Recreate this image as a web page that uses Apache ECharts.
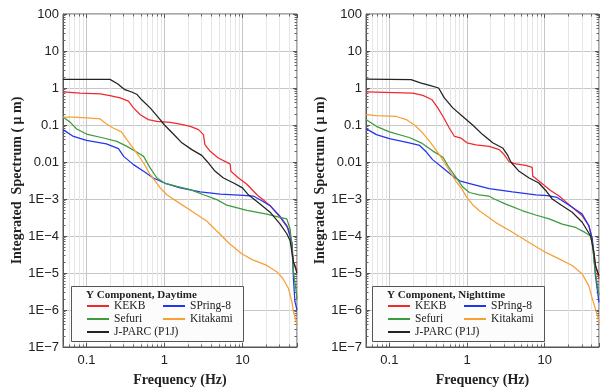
<!DOCTYPE html>
<html><head><meta charset="utf-8">
<script src="https://cdn.jsdelivr.net/npm/echarts@6/dist/echarts.min.js"></script>
<style>html,body{margin:0;padding:0;background:#fff}#c{width:602px;height:388px}</style>
</head><body><div id="c"></div>
<script>
// ---------- data (frequency Hz, integrated spectrum um) ----------
const seriesNames = ['KEKB', 'SPring-8', 'Sefuri', 'Kitakami', 'J-PARC (P1J)'];
const panelTitles = ['Y Component, Daytime', 'Y Component, Nighttime'];

const dayKEKB = [[0.05,0.78],[0.083,0.73],[0.15,0.69],[0.2,0.62],[0.27,0.54],[0.345,0.44],[0.40,0.29],[0.49,0.19],[0.62,0.14],[0.80,0.126],[1.18,0.118],[1.59,0.106],[2.14,0.092],[2.73,0.075],[3.16,0.055],[3.3,0.0295],[3.85,0.0194],[4.9,0.0128],[6.3,0.0098],[6.95,0.0088],[7.1,0.0056],[8.9,0.0037],[11.4,0.0025],[15.3,0.0013],[19.4,8.7e-4],[22.6,6.6e-4],[30.4,3.2e-4],[39,1.55e-4],[43,6.2e-5],[45,2e-5],[50,1.2e-5]];
const daySPring8 = [[0.05,0.075],[0.068,0.049],[0.1,0.0385],[0.18,0.031],[0.257,0.023],[0.3,0.0142],[0.40,0.0085],[0.54,0.0056],[0.72,0.0037],[1,0.0027],[1.59,0.002],[2.87,0.00155],[5.2,0.00136],[10.3,0.00126],[13.8,0.0012],[16.8,9.5e-4],[22.6,6.6e-4],[30,3.5e-4],[37,1.9e-4],[43,6.8e-5],[45,7e-6],[47,1.7e-6],[50,1e-6]];
const daySefuri = [[0.05,0.164],[0.062,0.118],[0.075,0.078],[0.1,0.057],[0.165,0.0445],[0.245,0.036],[0.33,0.0265],[0.44,0.0186],[0.54,0.0142],[0.655,0.0069],[0.80,0.0037],[1.0,0.0027],[1.44,0.0022],[2.14,0.0018],[3.16,0.0013],[4.7,9.6e-4],[6.3,6.8e-4],[11.4,4.9e-4],[20.5,3.9e-4],[30,3.2e-4],[37,2.9e-4],[40.8,1.55e-4],[43,5.5e-5],[45,1.1e-5],[49,3e-6],[50,2e-6]];
const dayKitakami = [[0.05,0.164],[0.068,0.164],[0.1,0.155],[0.15,0.146],[0.174,0.113],[0.22,0.083],[0.28,0.065],[0.33,0.04],[0.44,0.0175],[0.54,0.0094],[0.655,0.0046],[0.88,0.002],[1.07,0.0013],[1.59,7.5e-4],[2.35,4.4e-4],[3.5,2.5e-4],[5.2,1.1e-4],[6.95,6e-5],[9.8,3.3e-5],[13.3,2.3e-5],[20.5,1.6e-5],[27.8,1.07e-5],[33.1,7e-6],[38.9,3.8e-6],[43,1.66e-6],[45,9e-7],[49,4.8e-7],[50,4e-7]];
const dayJPARC = [[0.05,1.71],[0.2,1.71],[0.25,1.3],[0.31,0.9],[0.38,0.78],[0.44,0.68],[0.51,0.48],[0.655,0.29],[0.88,0.14],[1.0,0.10],[1.3,0.057],[1.67,0.033],[2.24,0.0216],[3.0,0.0151],[3.5,0.0105],[4.47,0.0056],[5.7,0.0037],[7.7,0.0027],[10,0.002],[11.9,0.0013],[16.8,7.3e-4],[22.6,4.4e-4],[30.4,2.1e-4],[37,1.15e-4],[40.8,7.5e-5],[45,2e-5],[50,1e-5]];

const nightKEKB = [[0.05,0.78],[0.2,0.73],[0.27,0.63],[0.355,0.48],[0.42,0.29],[0.49,0.17],[0.59,0.083],[0.69,0.049],[0.84,0.044],[1.0,0.033],[1.3,0.029],[1.93,0.0265],[2.6,0.0216],[3.0,0.0159],[3.5,0.01],[4.25,0.0089],[5.7,0.0081],[6.9,0.0072],[7.0,0.0042],[9.3,0.0026],[11.9,0.0017],[15.3,0.0012],[18.6,8.5e-4],[22.6,6e-4],[30.4,3.5e-4],[37,1.9e-4],[40.8,8.3e-5],[45,1.6e-5],[50,7e-6]];
const nightSPring8 = [[0.05,0.08],[0.068,0.055],[0.1,0.043],[0.18,0.033],[0.245,0.028],[0.3,0.0186],[0.36,0.0116],[0.49,0.0069],[0.62,0.0046],[0.8,0.0031],[1.18,0.0025],[1.93,0.0019],[3.85,0.00155],[7.7,0.0013],[10.8,0.00123],[14.5,1.1e-3],[16.8,9e-4],[22.6,6e-4],[30.4,3.9e-4],[37,1.9e-4],[41,8.3e-5],[45,8.5e-6],[50,1.6e-6]];
const nightSefuri = [[0.05,0.14],[0.068,0.092],[0.1,0.065],[0.18,0.046],[0.257,0.033],[0.36,0.02],[0.49,0.0134],[0.59,0.0069],[0.76,0.0033],[0.88,0.0021],[1.07,0.0015],[1.44,0.0013],[1.9,0.0012],[2.24,1e-3],[3.16,7.3e-4],[5.2,4.8e-4],[7.67,3.7e-4],[11.4,2.9e-4],[16.8,2.1e-4],[25,1.7e-4],[33,1.25e-4],[39,1e-4],[41,6e-5],[45,1e-5],[50,2.5e-6]];
const nightKitakami = [[0.05,0.19],[0.068,0.18],[0.123,0.17],[0.165,0.14],[0.21,0.1],[0.257,0.067],[0.33,0.036],[0.44,0.0159],[0.565,0.0069],[0.72,0.003],[0.84,0.002],[0.97,0.0012],[1.18,7e-4],[1.44,4.8e-4],[2.35,2.3e-4],[3.85,1.26e-4],[6.3,6.7e-5],[10.3,3.6e-5],[15.3,2.4e-5],[22.6,1.6e-5],[30.4,9.4e-6],[37,4.5e-6],[41,2e-6],[45,1.07e-6],[49,5.7e-7],[50,4.5e-7]];
const nightJPARC = [[0.05,1.75],[0.19,1.68],[0.257,1.36],[0.33,1.18],[0.43,1.0],[0.51,0.54],[0.655,0.29],[0.88,0.17],[1.18,0.1],[1.59,0.055],[2.14,0.033],[2.87,0.024],[3.3,0.0159],[3.66,0.01],[4.68,0.0056],[6.3,0.0037],[8.4,0.0027],[10.3,0.0017],[12.5,1e-3],[16.8,6.6e-4],[22.6,4.4e-4],[30.4,2.35e-4],[39,1.0e-4],[43,3.6e-5],[45,1.6e-5],[50,8.5e-6]];

const panels = [
  [dayKEKB, daySPring8, daySefuri, dayKitakami, dayJPARC],
  [nightKEKB, nightSPring8, nightSefuri, nightKitakami, nightJPARC]
];
// ---------- styling ----------
const colors = ['#ee2a2e', '#2236ee', '#3c9b3c', '#f6a036', '#222222'];
const gridLeft = [63, 366];
const gridW = [234, 233];
const boxLeft = [71, 372];
const yNameGap = [38, 34];

function yFmt(v) {
  const e = Math.round(Math.log10(v));
  if (e >= 0) return String(Math.pow(10, e));
  if (e >= -2) return (Math.pow(10, e)).toFixed(-e);
  return '1E\u2212' + (-e);
}

const grids = [], xAxes = [], yAxes = [], series = [], legends = [], graphics = [];
const tickStyle = {show: true, inside: true, length: 4, lineStyle: {color: '#555'}};
const minorTickStyle = {show: true, splitNumber: 9, length: 2.5, lineStyle: {color: '#666'}};
for (let p = 0; p < 2; p++) {
  grids.push({left: gridLeft[p], top: 14, width: gridW[p], height: 333, show: true,
    outerBoundsMode: 'none', containLabel: false,
    borderColor: '#555', borderWidth: 1, backgroundColor: 'transparent'});
  xAxes.push({type: 'log', logBase: 10, min: 0.05, max: 50, gridIndex: p,
    axisLine: {show: true, lineStyle: {color: '#555'}},
    axisTick: tickStyle, minorTick: minorTickStyle,
    minorSplitLine: {show: true, lineStyle: {color: '#e6e6e6', width: 1}},
    axisLabel: {color: '#222', fontFamily: 'Liberation Sans', fontSize: 13, margin: 7,
      showMinLabel: false, showMaxLabel: false,
      formatter: v => { const e = Math.round(Math.log10(v)); return e < 0 ? '0.1' : String(Math.pow(10, e)); }},
    splitLine: {show: true, lineStyle: {color: '#c6c6c6', width: 1}},
    name: 'Frequency (Hz)', nameLocation: 'middle', nameGap: 26,
    nameTextStyle: {fontFamily: 'Liberation Serif', fontWeight: 'bold', fontSize: 14, color: '#222'}
  });
  yAxes.push({type: 'log', logBase: 10, min: 1e-7, max: 100, gridIndex: p,
    axisLine: {show: true, lineStyle: {color: '#555'}},
    axisTick: tickStyle, minorTick: minorTickStyle,
    axisLabel: {color: '#222', fontFamily: 'Liberation Sans', fontSize: 13, margin: 4, formatter: yFmt},
    splitLine: {show: true, lineStyle: {color: '#c6c6c6', width: 1}},
    name: 'Integrated  Spectrum ( \u03bc m)', nameLocation: 'middle', nameGap: yNameGap[p], nameRotate: 90,
    nameTextStyle: {fontFamily: 'Liberation Serif', fontWeight: 'bold', fontSize: 14, color: '#222'}
  });
  for (let s = 0; s < 5; s++) {
    series.push({type: 'line', name: seriesNames[s], xAxisIndex: p, yAxisIndex: p,
      data: panels[p][s], showSymbol: false, symbol: 'none', z: 3,
      lineStyle: {color: colors[s], width: 1.25, type: 'solid'}, itemStyle: {color: colors[s]}});
  }
  // legend box
  graphics.push({type: 'rect', left: boxLeft[p], top: 286, z: 5,
    shape: {width: 172, height: 55}, style: {fill: '#fcfcfc', stroke: '#555', lineWidth: 1}});
  graphics.push({type: 'text', left: boxLeft[p] + 15, top: 290, z: 6,
    style: {text: panelTitles[p], fill: '#222', font: 'bold 11px "Liberation Serif"'}});
  const pos = [[16, 306], [92, 306], [16, 319], [92, 319], [16, 332]];
  for (let s = 0; s < 5; s++) {
    legends.push({data: [seriesNames[s]], left: boxLeft[p] + pos[s][0], top: pos[s][1] - 7, z: 10,
      padding: 0, itemWidth: 22, itemHeight: 2, icon: 'rect', itemGap: 0, selectedMode: false,
      textStyle: {fontFamily: 'Liberation Serif', fontSize: 11.5, color: '#222', lineHeight: 14}});
  }
}
// mirrored frame ticks (top and right edges)
for (let p = 0; p < 2; p++) {
  xAxes.push({type: 'log', logBase: 10, min: 0.05, max: 50, gridIndex: p, position: 'top',
    axisLine: {show: false}, axisTick: tickStyle, minorTick: minorTickStyle,
    axisLabel: {show: false}, splitLine: {show: false}, minorSplitLine: {show: false}});
  yAxes.push({type: 'log', logBase: 10, min: 1e-7, max: 100, gridIndex: p, position: 'right',
    axisLine: {show: false}, axisTick: tickStyle, minorTick: minorTickStyle,
    axisLabel: {show: false}, splitLine: {show: false}});
}

const chart = echarts.init(document.getElementById('c'), null, {renderer: 'canvas'});
chart.setOption({
  animation: false,
  backgroundColor: '#fff',
  color: colors,
  grid: grids, xAxis: xAxes, yAxis: yAxes, series: series, legend: legends, graphic: graphics
});
</script></body></html>
